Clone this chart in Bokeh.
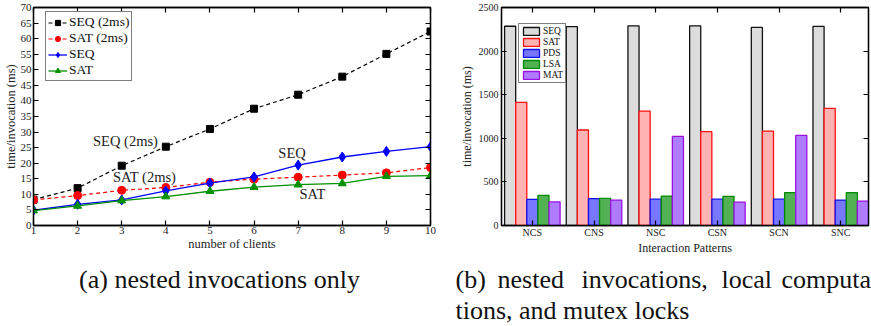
from bokeh.plotting import figure
from bokeh.models import (ColumnDataSource, Range1d, LinearAxis, FixedTicker,
                          Legend, LegendItem, Label)
from bokeh.layouts import row, column
from bokeh.transform import dodge
from bokeh.embed import file_html
from bokeh.resources import INLINE

# ---------------- data: (a) nested invocations only ----------------
clients = [1, 2, 3, 4, 5, 6, 7, 8, 9, 10]
seq_2ms = [8.3, 12.0, 19.2, 25.3, 31.0, 37.5, 42.0, 47.8, 55.1, 62.3]
sat_2ms = [8.2, 9.6, 11.3, 12.2, 13.9, 14.9, 15.5, 16.2, 16.9, 18.6]
seq = [4.9, 6.8, 8.2, 11.1, 13.6, 15.6, 19.4, 22.0, 23.8, 25.3]
sat = [4.8, 6.3, 8.0, 9.3, 11.0, 12.3, 13.1, 13.5, 15.8, 16.0]
y_ticks_a = [0, 5, 10, 15, 20, 25, 30, 35, 40, 45, 50, 55, 60, 65, 70]

# ---------------- data: (b) interaction patterns ----------------
patterns = ["NCS", "CNS", "NSC", "CSN", "SCN", "SNC"]
bar_seq = [2285, 2280, 2290, 2290, 2272, 2284]
bar_sat = [1412, 1095, 1312, 1076, 1083, 1343]
bar_pds = [300, 309, 302, 302, 302, 291]
bar_lsa = [345, 312, 338, 335, 378, 378]
bar_mat = [270, 292, 1022, 269, 1033, 280]
y_ticks_b = [0, 500, 1000, 1500, 2000, 2500]

FONT = "Liberation Serif"


def style_axis(ax, size="11px"):
    ax.major_tick_in = 5
    ax.major_tick_out = 0
    ax.minor_tick_in = 0
    ax.minor_tick_out = 0
    ax.axis_line_color = "black"
    ax.axis_line_width = 1.3
    ax.major_tick_line_color = "black"
    ax.major_tick_line_width = 1.2
    ax.major_label_text_font = FONT
    ax.major_label_text_font_size = size
    ax.major_label_text_color = "#222222"
    ax.axis_label_text_font = FONT
    ax.axis_label_text_font_style = "normal"
    ax.axis_label_text_color = "#222222"


def mirror_axis(ticks):
    ax = LinearAxis(ticker=FixedTicker(ticks=ticks))
    style_axis(ax)
    ax.major_label_text_font_size = "1px"
    ax.major_label_text_alpha = 0
    ax.major_label_standoff = 0
    return ax


# ================= figure (a) =================
pa = figure(width=440, height=258, x_range=Range1d(1, 10), y_range=Range1d(0, 70),
            output_backend="svg", toolbar_location=None,
            min_border_left=33, min_border_right=10, min_border_top=7, min_border_bottom=33)
pa.grid.visible = False
pa.outline_line_color = "black"
pa.outline_line_width = 1.3
pa.xaxis.ticker = FixedTicker(ticks=clients)
pa.yaxis.ticker = FixedTicker(ticks=y_ticks_a)
style_axis(pa.xaxis[0], "11px")
style_axis(pa.yaxis[0], "11px")
pa.xaxis.axis_label = "number of clients"
pa.xaxis.axis_label_text_font_size = "12.5px"
pa.xaxis.major_label_standoff = 1
pa.xaxis.axis_label_standoff = 0
pa.yaxis.axis_label = "time/invocation (ms)"
pa.yaxis.axis_label_text_font_size = "12.5px"
pa.yaxis.major_label_standoff = 2
pa.yaxis.axis_label_standoff = 0
pa.add_layout(mirror_axis(clients), "above")
pa.add_layout(mirror_axis(y_ticks_a), "right")

src_a = ColumnDataSource(dict(x=clients, seq2=seq_2ms, sat2=sat_2ms, seq=seq, sat=sat))
l1 = pa.line("x", "seq2", source=src_a, line_color="black", line_dash="4 3", line_width=1.2)
m1 = pa.scatter("x", "seq2", source=src_a, marker="square", size=7, color="black")
l2 = pa.line("x", "sat2", source=src_a, line_color="red", line_dash="4 3", line_width=1.2)
m2 = pa.scatter("x", "sat2", source=src_a, marker="circle", size=8, color="red")
l3 = pa.line("x", "seq", source=src_a, line_color="blue", line_width=1.3)
m3 = pa.scatter("x", "seq", source=src_a, marker="diamond", size=10, color="blue")
l4 = pa.line("x", "sat", source=src_a, line_color="#009000", line_width=1.3)
m4 = pa.scatter("x", "sat", source=src_a, marker="triangle", size=8, color="#009000")

leg_a = Legend(items=[LegendItem(label="SEQ (2ms)", renderers=[l1, m1]),
                      LegendItem(label="SAT (2ms)", renderers=[l2, m2]),
                      LegendItem(label="SEQ", renderers=[l3, m3]),
                      LegendItem(label="SAT", renderers=[l4, m4])],
               location=(12, 144), orientation="vertical",
               label_text_font=FONT, label_text_font_size="13.5px", label_text_color="#111111",
               label_height=13, glyph_height=13, glyph_width=19, label_standoff=2,
               spacing=0, padding=2, margin=0,
               border_line_color="black", border_line_width=1.3,
               background_fill_alpha=1.0)
pa.add_layout(leg_a)

for txt, x, y in [("SEQ (2ms)", 2.35, 27.1), ("SAT (2ms)", 2.8, 15.5),
                  ("SEQ", 6.55, 23.2), ("SAT", 7.03, 10.2)]:
    pa.add_layout(Label(x=x, y=y, text=txt, text_align="left", text_baseline="middle",
                        text_font=FONT, text_font_size="14.5px", text_color="#222222"))

# ================= figure (b) =================
idx = list(range(len(patterns)))
pb = figure(width=431, height=258, x_range=Range1d(-0.5, 5.45), y_range=Range1d(0, 2500),
            output_backend="svg", toolbar_location=None,
            min_border_left=61, min_border_right=3, min_border_top=0, min_border_bottom=29)
pb.grid.visible = False
pb.outline_line_color = "black"
pb.outline_line_width = 1.3
pb.xaxis.ticker = FixedTicker(ticks=idx)
pb.xaxis.major_label_overrides = {i: name for i, name in zip(idx, patterns)}
pb.yaxis.ticker = FixedTicker(ticks=y_ticks_b)
style_axis(pb.xaxis[0], "10px")
style_axis(pb.yaxis[0], "10px")
pb.xaxis.axis_label = "Interaction Patterns"
pb.xaxis.axis_label_text_font_size = "12px"
pb.xaxis.major_label_standoff = 1
pb.xaxis.axis_label_standoff = 0
pb.yaxis.axis_label = "time/invocation (ms)"
pb.yaxis.axis_label_text_font_size = "12px"
pb.yaxis.major_label_standoff = 3
pb.yaxis.axis_label_standoff = 2
pb.add_layout(mirror_axis(idx), "above")
pb.add_layout(mirror_axis(y_ticks_b), "right")

src_b = ColumnDataSource(dict(idx=idx, SEQ=bar_seq, SAT=bar_sat, PDS=bar_pds,
                              LSA=bar_lsa, MAT=bar_mat))
series = [("SEQ", -0.36, "#dcdcdc", "#111111"),
          ("SAT", -0.18, "#ffb3b3", "#ff1010"),
          ("PDS", 0.0, "#7777ff", "#1010ee"),
          ("LSA", 0.18, "#52b152", "#008a00"),
          ("MAT", 0.36, "#b07cff", "#9a10e0")]
items = []
for name, off, fill, line in series:
    r = pb.vbar(x=dodge("idx", off), top=name, width=0.18, source=src_b,
                fill_color=fill, line_color=line, line_width=1.3)
    items.append(LegendItem(label=name, renderers=[r]))

leg_b = Legend(items=items, location=(17, 142), orientation="vertical",
               label_text_font=FONT, label_text_font_size="9.5px", label_text_color="#111111",
               label_height=10, glyph_height=10, glyph_width=20, label_standoff=2,
               spacing=1, padding=2, margin=0,
               border_line_color="black", border_line_width=1.3)
pb.add_layout(leg_b)

# ================= captions =================
pc = figure(width=871, height=68, x_range=Range1d(0, 871), y_range=Range1d(326, 258),
            x_axis_type=None, y_axis_type=None, output_backend="svg", toolbar_location=None,
            min_border=0, min_border_left=0, min_border_right=0, min_border_top=0,
            min_border_bottom=0)
pc.grid.visible = False
pc.outline_line_color = None

pc.add_layout(Label(x=219, y=279, text="(a) nested invocations only", text_align="center",
                    text_baseline="middle", text_font=FONT, text_font_size="26px",
                    text_color="#111111"))
for txt, x, y in [("(b)", 455, 279), ("nested", 497, 279), ("invocations,", 581, 279),
                  ("local", 721, 279), ("computa", 781, 279),
                  ("tions, and mutex locks", 455, 310)]:
    pc.add_layout(Label(x=x, y=y, text=txt, text_align="left", text_baseline="middle",
                        text_font=FONT, text_font_size="26px", text_color="#111111"))

layout = column(row(pa, pb), pc)
open("out.html", "w").write(file_html(layout, INLINE))
